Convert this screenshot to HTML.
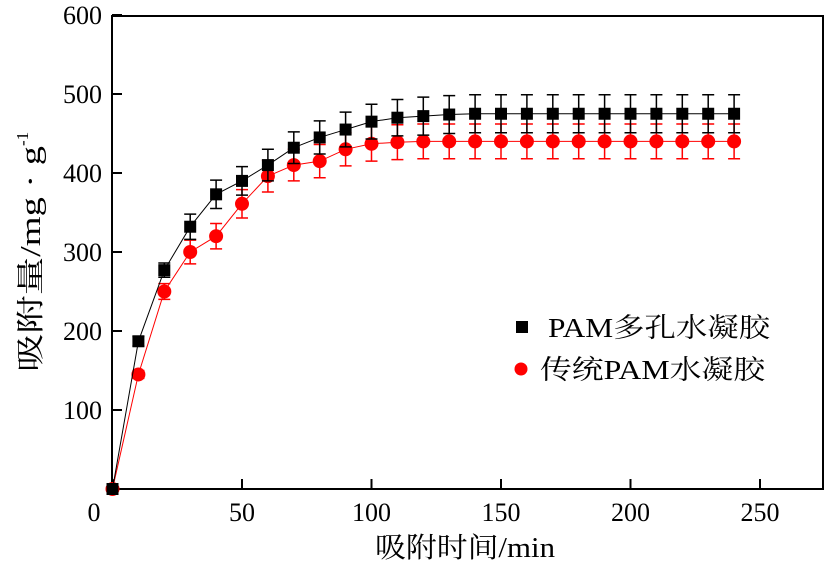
<!DOCTYPE html>
<html><head><meta charset="utf-8"><style>
body{margin:0;background:#fff}
svg text{font-family:"Liberation Serif","Noto Serif CJK SC",serif;fill:#000}
</style></head><body>
<svg id="chart" width="826" height="568" xmlns="http://www.w3.org/2000/svg">
<g id="axes"></g><g id="series"></g>
<text x="375" y="557" font-size="28" textLength="180" lengthAdjust="spacingAndGlyphs">吸附时间/min</text>
<text transform="translate(40,372) rotate(-90)" font-size="28"><tspan textLength="226" lengthAdjust="spacingAndGlyphs">吸附量/mg · g</tspan><tspan dy="-12" font-size="17">-1</tspan></text>
<g>
<rect x="516" y="321" width="12" height="12" fill="#000"/>
<text x="548" y="337" font-size="27" textLength="222" lengthAdjust="spacingAndGlyphs">PAM多孔水凝胶</text>
<circle cx="521" cy="369" r="6.5" fill="#f00"/>
<text x="540" y="379" font-size="27" textLength="225" lengthAdjust="spacingAndGlyphs">传统PAM水凝胶</text>
</g>
</svg>
<script>
const xs=[0,10,20,30,40,50,60,70,80,90,100,110,120,130,140,150,160,170,180,190,200,210,220,230,240];
const blackVals=[0,187,277,332,373,390,410,432,445,455,465,470,472,474,475,475,475,475,475,475,475,475,475,475,475];
const blackErr=[0,6,9,16,18,18,20,20,21,22,22,23,24,24,24,24,24,24,24,24,24,24,24,24,24];
const redVals=[0,145,250,300,320,361,396,410,415,430,437,439,440,440,440,440,440,440,440,440,440,440,440,440,440];
const redErr=[0,5,10,15,16,18,20,20,21,21,22,22,22,22,22,22,22,22,22,22,22,22,22,22,22];
const xTicks=[0,50,100,150,200,250];
const yTicks=[100,200,300,400,500,600];
const X=v=>112.5+v*2.59, Y=v=>489-v*0.79;
const NS="http://www.w3.org/2000/svg";
function mk(p,t,a){const e=document.createElementNS(NS,t);for(const k in a)e.setAttribute(k,a[k]);p.appendChild(e);return e;}
const ax=document.getElementById('axes'), se=document.getElementById('series');
const frame=mk(ax,'rect',{x:112,y:16,width:711,height:473,fill:'none',stroke:'#000','stroke-width':2});


xTicks.forEach(t=>{
 const l=mk(ax,'line',{x1:X(t),x2:X(t),y1:489,y2:479,stroke:'#000','stroke-width':2});
 
 
 const tx=mk(ax,'text',{x:t===0?94:X(t),y:521,'font-size':26,'text-anchor':'middle'});tx.textContent=t;
 
 
});
yTicks.forEach(t=>{
 const l=mk(ax,'line',{x1:112,x2:122,y1:Y(t),y2:Y(t),stroke:'#000','stroke-width':2});
 
 
 const tx=mk(ax,'text',{x:102,y:Y(t)+9,'font-size':26,'text-anchor':'end'});tx.textContent=t;
 
 
});
function series(vals,errs,color,shape,name){
 const g=mk(se,'g',{});
 
 
 const pl=mk(g,'polyline',{points:xs.map((x,i)=>X(x)+','+Y(vals[i])).join(' '),fill:'none',stroke:color,'stroke-width':1});
 
 
 xs.forEach((x,i)=>{
  const cx=X(x),y1=Y(vals[i]+errs[i]),y2=Y(vals[i]-errs[i]);
  if(errs[i]>0){
   const eb=mk(g,'path',{d:`M${cx},${y1}V${y2}M${cx-6},${y1}H${cx+6}M${cx-6},${y2}H${cx+6}`,stroke:color,'stroke-width':1.5,fill:'none'});
   
   
  }
  let m;
  if(shape==='sq') m=mk(g,'rect',{x:cx-6,y:Y(vals[i])-6,width:12,height:12,fill:color});
  else m=mk(g,'circle',{cx:cx,cy:Y(vals[i]),r:7,fill:color});
  
  
 });
}
series(redVals,redErr,'#f00','c','traditional');
series(blackVals,blackErr,'#000','sq','porous');
</script>
</body></html>
